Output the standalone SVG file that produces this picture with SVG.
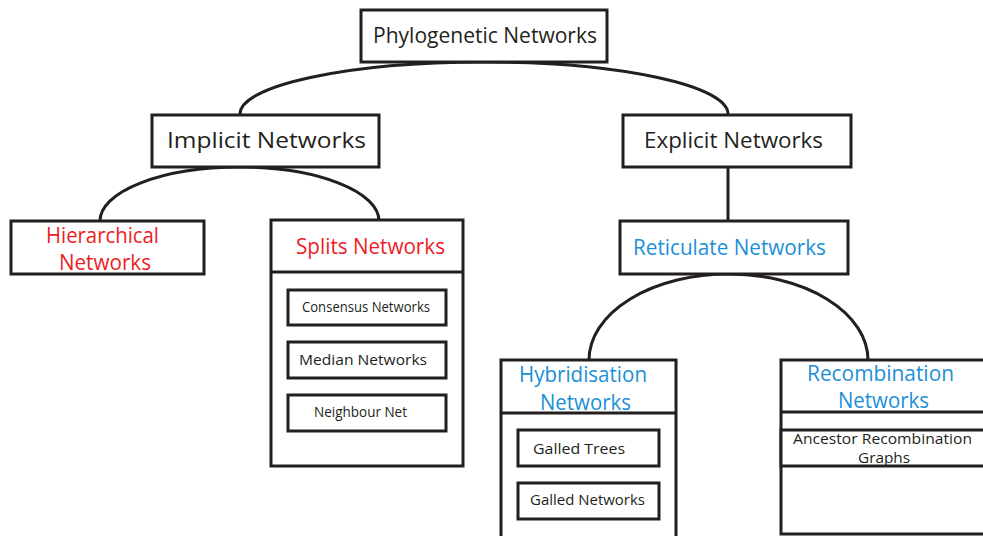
<svg xmlns="http://www.w3.org/2000/svg" width="983" height="536" viewBox="0 0 983 536">
<style>
.box{fill:#fff;stroke:#231f20;stroke-width:3}
.ln{fill:none;stroke:#231f20;stroke-width:3}
text{font-family:"Open Sans","Liberation Sans",sans-serif;text-anchor:middle}
.k{fill:#231f20}
.r{fill:#ed1c24}
.b{fill:#1b8fd6}
.L{font-size:22px}
.M{font-size:21px}
.S{font-size:14px}
.T{font-size:15px}
.U{font-size:14px}
</style>
<rect width="983" height="536" fill="#fff"/>
<g id="connectors">
<path class="ln" d="M240,114 A244,52 0 0 1 728,114"/>
<path class="ln" d="M100,221 A139.5,54 0 0 1 379,221"/>
<path class="ln" d="M589,360 A139.5,86 0 0 1 868,360"/>
<path class="ln" d="M728,167 V221"/>
</g>
<g id="phylogenetic">
<rect class="box" x="361" y="10" width="246" height="52"/>
<text class="k L" x="485" y="43" textLength="224" lengthAdjust="spacingAndGlyphs">Phylogenetic Networks</text>
</g>
<g id="implicit">
<rect class="box" x="152" y="115" width="227" height="52"/>
<text class="k L" x="266.5" y="148" textLength="199" lengthAdjust="spacingAndGlyphs">Implicit Networks</text>
</g>
<g id="explicit">
<rect class="box" x="623" y="115" width="228" height="52"/>
<text class="k L" x="733.5" y="148" textLength="179" lengthAdjust="spacingAndGlyphs">Explicit Networks</text>
</g>
<g id="hierarchical">
<rect class="box" x="11" y="221" width="193" height="53"/>
<text class="r M" x="102.5" y="243" textLength="113" lengthAdjust="spacingAndGlyphs">Hierarchical</text>
<text class="r M" x="105" y="270" textLength="92" lengthAdjust="spacingAndGlyphs">Networks</text>
</g>
<g id="splits">
<rect class="box" x="271" y="220" width="192" height="246"/>
<line class="ln" x1="271" y1="272" x2="463" y2="272"/>
<text class="r M" x="370.5" y="254" textLength="149" lengthAdjust="spacingAndGlyphs">Splits Networks</text>
</g>
<g id="consensus">
<rect class="box" x="288" y="290" width="158" height="35"/>
<text class="k S" x="366" y="312" textLength="128" lengthAdjust="spacingAndGlyphs">Consensus Networks</text>
</g>
<g id="median">
<rect class="box" x="288" y="342" width="158" height="36"/>
<text class="k S" x="363" y="365" textLength="128" lengthAdjust="spacingAndGlyphs">Median Networks</text>
</g>
<g id="neighbour">
<rect class="box" x="288" y="395" width="158" height="36"/>
<text class="k S" x="360.5" y="417" textLength="93" lengthAdjust="spacingAndGlyphs">Neighbour Net</text>
</g>
<g id="reticulate">
<rect class="box" x="620" y="221" width="228" height="53"/>
<text class="b M" x="729.5" y="255" textLength="193" lengthAdjust="spacingAndGlyphs">Reticulate Networks</text>
</g>
<g id="hybridisation">
<rect class="box" x="501" y="360" width="175" height="185"/>
<line class="ln" x1="501" y1="413" x2="676" y2="413"/>
<text class="b M" x="583" y="382" textLength="128" lengthAdjust="spacingAndGlyphs">Hybridisation</text>
<text class="b M" x="585.5" y="410" textLength="91" lengthAdjust="spacingAndGlyphs">Networks</text>
</g>
<g id="galled-trees">
<rect class="box" x="518" y="430" width="141" height="36"/>
<text class="k T" x="579" y="454" textLength="92" lengthAdjust="spacingAndGlyphs">Galled Trees</text>
</g>
<g id="galled-networks">
<rect class="box" x="518" y="483" width="141" height="36"/>
<text class="k T" x="587.5" y="505" textLength="115" lengthAdjust="spacingAndGlyphs">Galled Networks</text>
</g>
<g id="recombination">
<rect class="box" x="781" y="360" width="215" height="174"/>
<line class="ln" x1="781" y1="412" x2="990" y2="412"/>
<text class="b M" x="880.5" y="381" textLength="147" lengthAdjust="spacingAndGlyphs">Recombination</text>
<text class="b M" x="883.5" y="408" textLength="91" lengthAdjust="spacingAndGlyphs">Networks</text>
</g>
<g id="ancestor">
<rect class="box" x="781" y="430" width="215" height="36"/>
<text class="k U" x="882.5" y="444" textLength="179" lengthAdjust="spacingAndGlyphs">Ancestor Recombination</text>
<text class="k U" x="884" y="463" textLength="52" lengthAdjust="spacingAndGlyphs">Graphs</text>
</g>
</svg>
